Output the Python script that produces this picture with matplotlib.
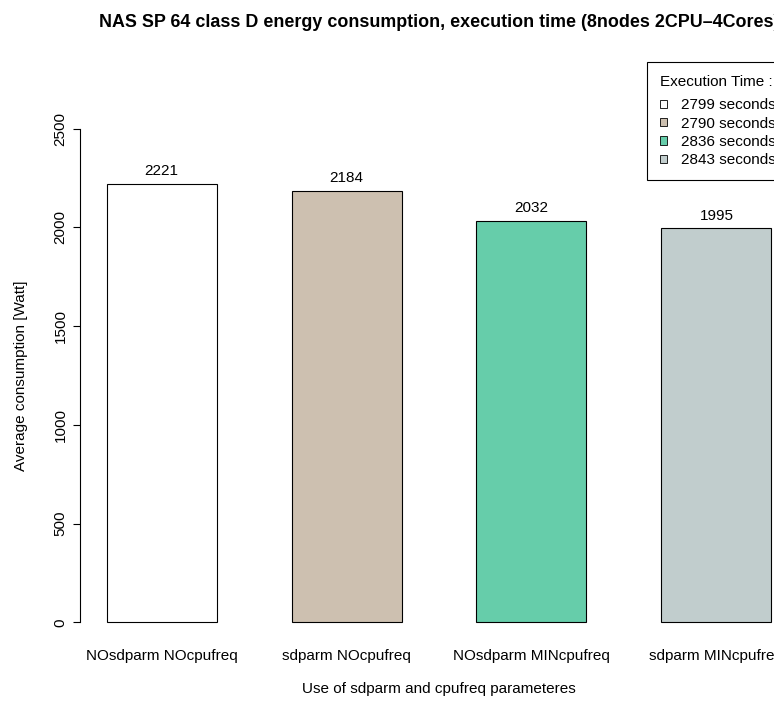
import matplotlib
matplotlib.use("Agg")
import matplotlib.pyplot as plt
from matplotlib.patches import Patch

plt.rcParams['font.family'] = ['Liberation Sans', 'DejaVu Sans']

configs = ['NOsdparm NOcpufreq', 'sdparm NOcpufreq', 'NOsdparm MINcpufreq', 'sdparm MINcpufreq']
consumption = [2221, 2184, 2032, 1995]
exec_times = [2799, 2790, 2836, 2843]
colors = ['white', '#CDC0B0', '#66CDAA', '#C1CDCD']
yticks = [0, 500, 1000, 1500, 2000, 2500]

W, H = 774, 701
fs = 11
fig = plt.figure(figsize=(W / 100, H / 100), dpi=100)
# plot region runs past the right edge of the canvas
ax = fig.add_axes([80 / W, 59 / H, 718 / W, 533 / H])

pos = list(range(len(configs)))
bw = 110 / 185
ax.bar(pos, consumption, width=bw, color=colors, edgecolor='black', linewidth=0.8)
for x, v in zip(pos, consumption):
    ax.text(x, v + 30, str(v), ha='center', va='bottom', fontsize=fs)

ax.set_xlim(-0.5 * bw - 0.04 * (3 + bw), 3 + 0.5 * bw + 0.04 * (3 + bw))
ax.set_ylim(-100, 2600)
ax.set_xticks(pos)
ax.set_xticklabels(configs, fontsize=fs)
ax.tick_params(axis='x', length=0, pad=5)
ax.set_yticks(yticks)
ax.set_yticklabels([str(t) for t in yticks], rotation=90, va='center', fontsize=fs)
ax.tick_params(axis='y', length=5, width=0.8, pad=4)
for s in ['top', 'right', 'bottom']:
    ax.spines[s].set_visible(False)
ax.spines['left'].set_bounds(0, 2500)
ax.spines['left'].set_linewidth(0.8)

ax.set_xlabel('Use of sdparm and cpufreq parameteres', fontsize=fs, labelpad=14)
ax.set_ylabel('Average consumption [Watt]', fontsize=fs, labelpad=18)
ax.set_title('NAS SP 64 class D energy consumption, execution time (8nodes 2CPU\u20134Cores)',
             fontsize=12.9, fontweight='bold', pad=59)

handles = [Patch(facecolor=c, edgecolor='black', linewidth=0.6) for c in colors]
labels = [f'{t} seconds' for t in exec_times]
leg = fig.legend(handles, labels, title='Execution Time :', loc='upper left',
                 bbox_to_anchor=(647 / W, 1 - 62 / H), borderaxespad=0,
                 fontsize=fs, title_fontsize=fs,
                 handlelength=0.45, handleheight=0.45, handletextpad=0.95,
                 labelspacing=0.28, borderpad=0.83, fancybox=False,
                 edgecolor='black', framealpha=1, alignment='left')
leg.get_frame().set_linewidth(0.8)
leg._legend_box.sep = 7  # extra room under the legend title

fig.savefig('out.png', dpi=100)
